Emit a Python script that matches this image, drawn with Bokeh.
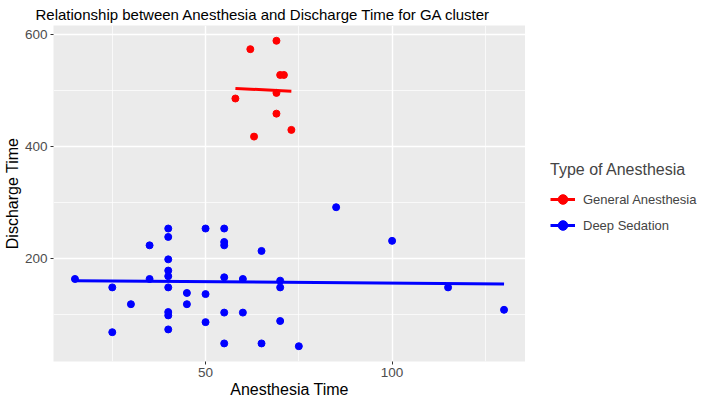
from bokeh.plotting import figure
from bokeh.layouts import row
from bokeh.models import FixedTicker, Legend, LegendItem, ColumnDataSource, Range1d
from bokeh.embed import file_html
from bokeh.resources import INLINE

# ---- data ----
ga_time = [62, 69, 70, 71, 69, 58, 69, 73, 63]
ga_discharge = [574, 589, 528, 528, 496, 486, 459, 430, 418]

ds_time = [15, 25, 25, 30, 35, 35, 40, 40, 40, 40, 40, 40, 40, 40, 40, 45, 45,
           50, 50, 50, 55, 55, 55, 55, 55, 55, 60, 60, 65, 65, 70, 70, 70, 75,
           85, 100, 115, 130]
ds_discharge = [164, 149, 69, 119, 224, 164, 254, 239, 199, 179, 169, 149, 105,
                99, 74, 139, 119, 254, 137, 87, 254, 230, 224, 167, 104, 49, 164,
                104, 214, 49, 161, 149, 89, 44, 292, 232, 149, 109]

# fitted trend lines (endpoints)
ga_fit_time = [58, 73]
ga_fit_discharge = [504, 499]
ds_fit_time = [15, 130]
ds_fit_discharge = [161, 155]

series_names = ["General Anesthesia", "Deep Sedation"]
series_colors = ["#FF0000", "#0000FF"]
x_ticks = [50, 100]
x_minor = [25, 75, 125]
y_ticks = [200, 400, 600]
y_minor = [100, 300, 500]

FONT = "Liberation Sans"

p = figure(frame_width=472, frame_height=336, output_backend="svg",
           toolbar_location=None,
           x_range=(9.25, 135.75), y_range=(16.75, 616.25),
           min_border_left=0, min_border_right=0, min_border_top=0,
           min_border_bottom=0,
           title="Relationship between Anesthesia and Discharge Time for GA cluster")

p.background_fill_color = "#EBEBEB"
p.border_fill_color = "white"
p.outline_line_color = None

p.title.text_font = FONT
p.title.text_font_size = "15px"
p.title.text_font_style = "normal"
p.title.text_color = "black"
p.title.offset = -18
p.title.standoff = 6

p.xaxis.ticker = FixedTicker(ticks=x_ticks, minor_ticks=x_minor)
p.yaxis.ticker = FixedTicker(ticks=y_ticks, minor_ticks=y_minor)
p.xaxis.axis_label = "Anesthesia Time"
p.yaxis.axis_label = "Discharge Time"
for ax in (p.xaxis, p.yaxis):
    ax.axis_line_color = None
    ax.major_tick_line_color = "#333333"
    ax.major_tick_in = 0
    ax.major_tick_out = 3
    ax.minor_tick_line_color = None
    ax.major_label_text_font = FONT
    ax.major_label_text_font_size = "13.5px"
    ax.major_label_text_color = "#4D4D4D"
    ax.major_label_standoff = 2
    ax.axis_label_text_font = FONT
    ax.axis_label_text_font_size = "16px"
    ax.axis_label_text_font_style = "normal"
    ax.axis_label_text_color = "black"
    ax.axis_label_standoff = 1

for g in (p.xgrid, p.ygrid):
    g.grid_line_color = "white"
    g.grid_line_width = 1.4
    g.minor_grid_line_color = "white"
    g.minor_grid_line_width = 0.7

sources = []
for color, xs, ys, fx, fy in [
        (series_colors[0], ga_time, ga_discharge, ga_fit_time, ga_fit_discharge),
        (series_colors[1], ds_time, ds_discharge, ds_fit_time, ds_fit_discharge)]:
    src = ColumnDataSource(dict(x=xs, y=ys))
    fit = ColumnDataSource(dict(x=fx, y=fy))
    p.scatter("x", "y", source=src, size=7, color=color)
    p.line("x", "y", source=fit, line_color=color, line_width=3)
    sources.append((src, fit))

# ---- legend panel (separate, frameless figure to the right) ----
LEG_H = 392
pl = figure(width=175, height=LEG_H, output_backend="svg", toolbar_location=None,
            x_range=Range1d(-2000, -1825), y_range=Range1d(-2000, -2000 + LEG_H),
            x_axis_location=None, y_axis_location=None,
            min_border_left=0, min_border_right=0, min_border_top=0,
            min_border_bottom=0)
pl.grid.visible = False
pl.outline_line_color = None
pl.background_fill_color = "white"
pl.border_fill_color = "white"

items = []
for name, color, (src, fit) in zip(series_names, series_colors, sources):
    # same data as the main plot, out of this panel's view: only the keys show
    ln = pl.line("x", "y", source=fit, line_color=color, line_width=3)
    sc = pl.scatter("x", "y", source=src, size=7, color=color)
    items.append(LegendItem(label=name, renderers=[ln, sc]))

legend = Legend(items=items, title="Type of Anesthesia", location=(25, 116))
legend.title_text_font = FONT
legend.title_text_font_size = "16px"
legend.title_text_font_style = "normal"
legend.title_standoff = 8
legend.label_text_font = FONT
legend.label_text_font_size = "13px"
legend.glyph_width = 25
legend.glyph_height = 24
legend.label_standoff = 8
legend.spacing = 2
legend.padding = 0
legend.margin = 0
legend.border_line_color = None
legend.background_fill_alpha = 0
pl.add_layout(legend)

layout = row(p, pl, spacing=0)
open("out.html", "w").write(file_html(layout, INLINE))
